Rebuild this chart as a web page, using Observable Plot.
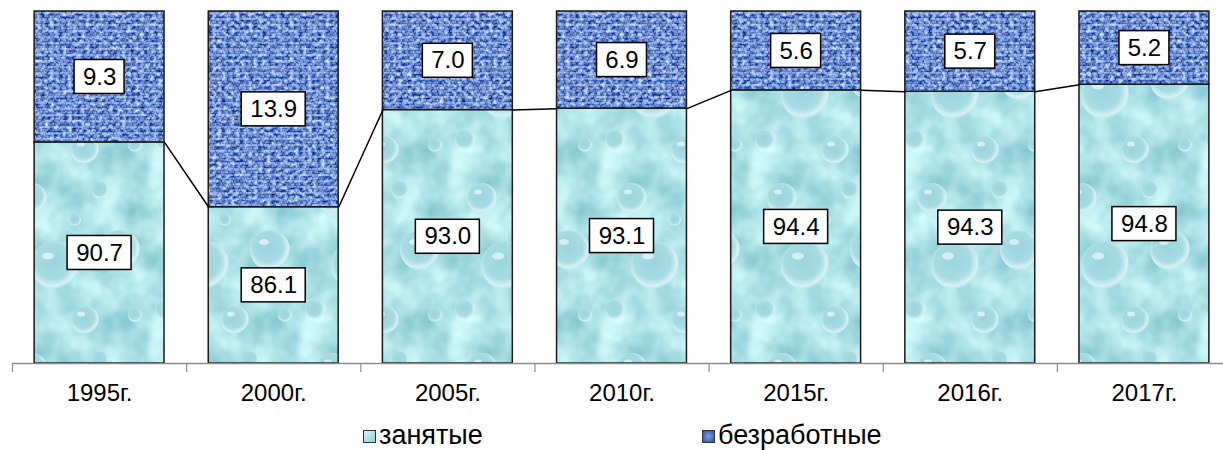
<!DOCTYPE html>
<html>
<head>
<meta charset="utf-8">
<script src="https://cdn.jsdelivr.net/npm/d3@7"></script>
<script src="https://cdn.jsdelivr.net/npm/@observablehq/plot@0.6"></script>
<style>
  body { margin: 0; background: #fff; font-family: "Liberation Sans", Arial, sans-serif; }
  #wrap { position: relative; width: 1223px; height: 450px; overflow: hidden; background: #fff; }
  #chart svg { display: block; }
  .legend { position: absolute; left: 0; top: 420px; width: 1223px; height: 30px; font-size: 27px; line-height: 30px; color: #000; }
  .item { position: absolute; top: 0; height: 30px; display: flex; align-items: center; white-space: nowrap; }
  .sw { width: 11px; height: 11px; border: 1px solid #333; margin-right: 3px; margin-top: 3px; }
</style>
</head>
<body>
<svg width="0" height="0" style="position:absolute">
  <defs>
    <filter id="burlapNoise" x="0" y="0" width="100%" height="100%" color-interpolation-filters="sRGB">
      <feTurbulence type="fractalNoise" baseFrequency="0.22 0.3" numOctaves="2" seed="4" stitchTiles="stitch" result="n"/>
      <feColorMatrix in="n" type="matrix" values="1.4 0 0 0 -0.3  1.3 0 0 0 -0.12  0.95 0 0 0 0.34  0 0 0 0 1"/>
    </filter>
    <pattern id="weave" patternUnits="userSpaceOnUse" width="6" height="6">
      <rect x="0" y="0" width="5" height="2" fill="#c8d9fb"/>
      <rect x="0" y="3" width="1.5" height="3" fill="#1a3572"/>
      <rect x="3" y="3.5" width="3" height="1.2" fill="#a8c0f0"/>
    </pattern>
    <pattern id="burlap" patternUnits="userSpaceOnUse" width="240" height="240">
      <rect width="240" height="240" filter="url(#burlapNoise)"/>
      <rect width="240" height="240" fill="url(#weave)" opacity="0.4"/>
    </pattern>

    <filter id="waterNoise" x="0" y="0" width="100%" height="100%" color-interpolation-filters="sRGB">
      <feTurbulence type="fractalNoise" baseFrequency="0.03" numOctaves="3" seed="11" stitchTiles="stitch" result="n"/>
      <feColorMatrix in="n" type="matrix" values="0.45 0 0 0 0.46  0.3 0 0 0 0.74  0.25 0 0 0 0.78  0 0 0 0 1"/>
    </filter>
    <radialGradient id="drop" cx="0.45" cy="0.42" r="0.6">
      <stop offset="0" stop-color="#9dd5dd"/>
      <stop offset="0.62" stop-color="#a6dbe2"/>
      <stop offset="0.86" stop-color="#d6f2f5"/>
      <stop offset="1" stop-color="#bce6eb" stop-opacity="0"/>
    </radialGradient>
    <pattern id="water" patternUnits="userSpaceOnUse" width="150" height="170">
      <rect width="150" height="170" filter="url(#waterNoise)"/>
      <circle cx="32" cy="28" r="15" fill="url(#drop)"/>
      <circle cx="100" cy="20" r="9" fill="url(#drop)"/>
      <circle cx="120" cy="80" r="20" fill="url(#drop)"/>
      <circle cx="55" cy="95" r="24" fill="url(#drop)"/>
      <circle cx="15" cy="140" r="10" fill="url(#drop)"/>
      <circle cx="85" cy="150" r="14" fill="url(#drop)"/>
      <circle cx="135" cy="145" r="7" fill="url(#drop)"/>
      <circle cx="75" cy="50" r="6" fill="url(#drop)"/>
      <ellipse cx="28" cy="22" rx="4" ry="2.5" fill="#eafbfc" opacity="0.7"/>
      <ellipse cx="48" cy="86" rx="6" ry="3.5" fill="#eafbfc" opacity="0.7"/>
      <ellipse cx="114" cy="72" rx="5" ry="3" fill="#eafbfc" opacity="0.7"/>
      <ellipse cx="81" cy="144" rx="4" ry="2.5" fill="#eafbfc" opacity="0.7"/>
    </pattern>
  </defs>
</svg>
<div id="wrap">
  <div id="chart"></div>
  <div class="legend">
    <div class="item" style="left:363px"><div class="sw" style="background:#a9dde4;background-image:linear-gradient(135deg,#d6f4f6,#93d0d8)"></div><span>занятые</span></div>
    <div class="item" style="left:702px"><div class="sw" style="background:#4f73bd;background-image:radial-gradient(circle,#7d9fe0,#2f519a)"></div><span>безработные</span></div>
  </div>
</div>
<script>
// ---- data ----
const years = ["1995г.", "2000г.", "2005г.", "2010г.", "2015г.", "2016г.", "2017г."];
const employed = [90.7, 86.1, 93.0, 93.1, 94.4, 94.3, 94.8];     // занятые
const unemployed = [9.3, 13.9, 7.0, 6.9, 5.6, 5.7, 5.2];         // безработные
const seriesNames = ["занятые", "безработные"];
const yDomain = [75, 100];

// ---- derived table ----
const rows = years.map((year, i) => ({
  i, year, employed: employed[i], unemployed: unemployed[i],
  top: employed[i] + unemployed[i]
}));
const half = 0.373; // half bar width, in category units
const boundaries = d3.range(years.length + 1).map(k => k - 0.5);
const pairs = rows.slice(0, -1).map((d, k) => ({a: d, b: rows[k + 1]}));

const labels = [];
rows.forEach(d => {
  labels.push({i: d.i, y: (yDomain[0] + d.employed) / 2, text: d.employed.toFixed(1)});
  labels.push({i: d.i, y: (d.employed + d.top) / 2, text: d.unemployed.toFixed(1)});
});
const boxMark = (len, w) => Plot.rect(labels.filter(d => d.text.length === len), {
  x1: "i", x2: "i", y1: "y", y2: "y",
  insetLeft: -w / 2, insetRight: -w / 2, insetTop: -17, insetBottom: -17,
  fill: "#fff", stroke: "#000", strokeWidth: 1.5
});

const chart = Plot.plot({
  width: 1223,
  height: 415,
  marginTop: 11, marginBottom: 52, marginLeft: 12, marginRight: -8,
  style: {background: "#fff", fontFamily: "'Liberation Sans', Arial, sans-serif"},
  x: {type: "linear", domain: [-0.5, years.length - 0.5], range: [12, 1231], axis: null},
  y: {domain: yDomain, range: [363, 11], axis: null},
  marks: [
    Plot.rect(rows, {
      x1: d => d.i - half, x2: d => d.i + half, y1: yDomain[0], y2: "employed",
      fill: "url(#water)", stroke: "#1a1a1a", strokeWidth: 1.5
    }),
    Plot.rect(rows, {
      x1: d => d.i - half, x2: d => d.i + half, y1: "employed", y2: "top",
      fill: "url(#burlap)", stroke: "#1a1a1a", strokeWidth: 1.5
    }),
    Plot.link(pairs, {
      x1: d => d.a.i + half, y1: d => d.a.employed,
      x2: d => d.b.i - half, y2: d => d.b.employed,
      stroke: "#000", strokeWidth: 1.5
    }),
    Plot.ruleY([yDomain[0]], {stroke: "#8c8c8c", strokeWidth: 1.5}),
    Plot.ruleX(boundaries, {x: d => d, y1: yDomain[0], y2: yDomain[0], insetBottom: -9, stroke: "#8c8c8c", strokeWidth: 1.2}),
    boxMark(3, 50),
    boxMark(4, 64),
    Plot.text(labels, {x: "i", y: "y", text: "text", fontSize: 24, fill: "#000"}),
    Plot.text(rows, {x: "i", y: yDomain[0], text: "year", dy: 30, fontSize: 24, fill: "#000"})
  ]
});
document.getElementById("chart").appendChild(chart);
</script>
</body>
</html>
